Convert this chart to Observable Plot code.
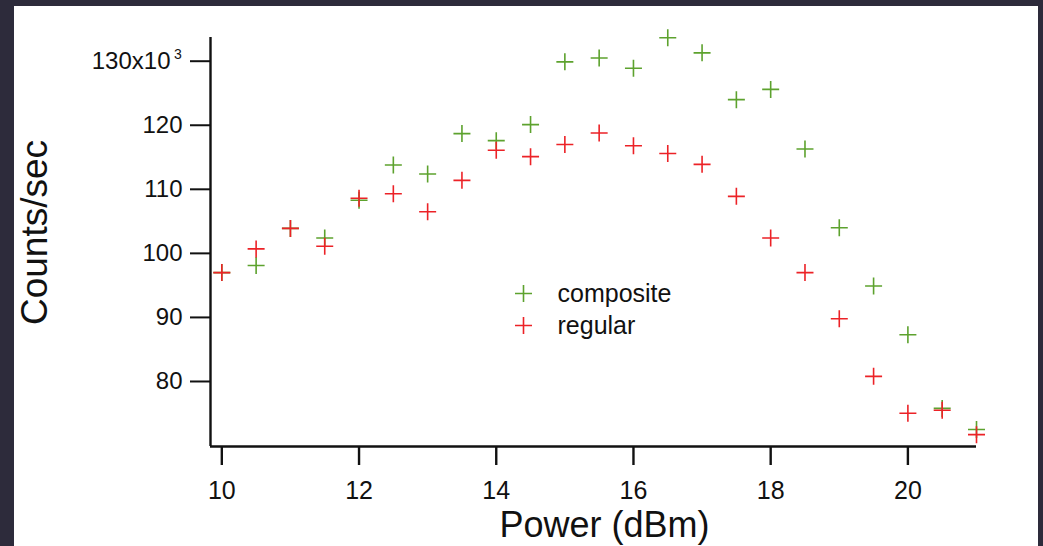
<!DOCTYPE html>
<html>
<head>
<meta charset="utf-8">
<script src="https://cdn.jsdelivr.net/npm/d3@7"></script>
<script src="https://cdn.jsdelivr.net/npm/@observablehq/plot@0.6"></script>
<style>
  html, body { margin: 0; padding: 0; background: #2d2b3b; }
  #panel {
    position: absolute; left: 14px; top: 6px;
    width: 1024px; height: 540px; background: #ffffff; overflow: hidden;
  }
  #panel svg { display: block; }
</style>
</head>
<body>
<div id="panel"></div>
<script>
// Input power sweep (dBm)
const power = [10, 10.5, 11, 11.5, 12, 12.5, 13, 13.5, 14, 14.5, 15, 15.5,
               16, 16.5, 17, 17.5, 18, 18.5, 19, 19.5, 20, 20.5, 21];

// Count rates in units of 10^3 counts/sec
const composite = [97.0, 98.1, 103.9, 102.4, 108.3, 113.8, 112.4, 118.7, 117.6, 120.1, 129.9, 130.5,
                   128.9, 133.65, 131.3, 124.0, 125.6, 116.3, 104.0, 94.9, 87.3, 75.8, 72.5];
const regular   = [97.0, 100.7, 103.9, 101.1, 108.6, 109.3, 106.5, 111.4, 116.1, 115.1, 117.0, 118.8,
                   116.8, 115.6, 113.9, 108.9, 102.4, 97.0, 89.8, 80.8, 75.05, 75.5, 71.7];

const seriesNames  = ["composite", "regular"];
const seriesColors = ["#5da22e", "#ec2227"];

const yTicks = [80, 90, 100, 110, 120];
const yTopTick = [130];
const xTicks = [10, 12, 14, 16, 18, 20];

const rows = [];
power.forEach((p, i) => {
  rows.push({power: p, counts: composite[i], series: "composite"});
  rows.push({power: p, counts: regular[i], series: "regular"});
});

// Thin stroked plus sign; arm half-length = sqrt(size / PI)
const plusMark = {
  draw(context, size) {
    const h = Math.sqrt(size / Math.PI);
    context.moveTo(-h, 0); context.lineTo(h, 0);
    context.moveTo(0, -h); context.lineTo(0, h);
  }
};

const font = "Liberation Sans, Arial, Helvetica, sans-serif";
const colorOf = Object.fromEntries(seriesNames.map((s, i) => [s, seriesColors[i]]));

const legendMarks = seriesNames.flatMap((name, i) => [
  Plot.dot([name], {
    frameAnchor: "top-left", dx: 313, dy: 256 + i * 32,
    symbol: plusMark, r: 8.5, stroke: seriesColors[i], strokeWidth: 1.6
  }),
  Plot.text([name], {
    frameAnchor: "top-left", dx: 347, dy: 256 + i * 32,
    text: d => d, textAnchor: "start", lineAnchor: "middle",
    fontSize: 25, fill: "#111"
  })
]);

const chart = Plot.plot({
  width: 1024,
  height: 540,
  marginLeft: 196,
  marginRight: 62,
  marginTop: 31,
  marginBottom: 100,
  style: {fontFamily: font, background: "#ffffff", color: "#111"},
  x: {domain: [9.835, 21.0]},
  y: {domain: [69.85, 133.7]},
  marks: [
    Plot.axisY({
      ticks: yTicks,
      tickSize: 20, tickPadding: 8, strokeWidth: 2,
      fontSize: 24, label: null
    }),
    // top tick carries the x10^3 multiplier, exponent drawn as a raised small "3"
    Plot.axisY({
      ticks: yTopTick,
      tickSize: 20, tickPadding: 20, strokeWidth: 2,
      fontSize: 24, label: null,
      tickFormat: d => `${d}x10`
    }),
    Plot.text(yTopTick, {
      y: d => d, frameAnchor: "left", dx: -32.5, dy: -7,
      text: () => "3", textAnchor: "middle", lineAnchor: "middle",
      fontSize: 14, fill: "#111"
    }),
    Plot.axisX({
      ticks: xTicks,
      tickSize: 19, tickPadding: 16, strokeWidth: 2.4,
      fontSize: 25, label: null
    }),
    Plot.ruleX([9.835], {stroke: "#111", strokeWidth: 2.4}),
    Plot.ruleY([69.85], {stroke: "#111", strokeWidth: 2.4}),
    Plot.dot(rows, {
      x: "power", y: "counts",
      symbol: plusMark, r: 8.5,
      stroke: d => colorOf[d.series], strokeWidth: 1.6
    }),
    ...legendMarks,
    Plot.text(["Counts/sec"], {
      frameAnchor: "left", dx: -175, dy: -9.5, rotate: -90,
      text: d => d, textAnchor: "middle", lineAnchor: "middle",
      fontSize: 37, fill: "#111"
    }),
    Plot.text(["Power (dBm)"], {
      frameAnchor: "bottom", dx: 11, dy: 79,
      text: d => d, textAnchor: "middle", lineAnchor: "middle",
      fontSize: 36, fill: "#111"
    })
  ]
});

document.getElementById("panel").appendChild(chart);
</script>
</body>
</html>
